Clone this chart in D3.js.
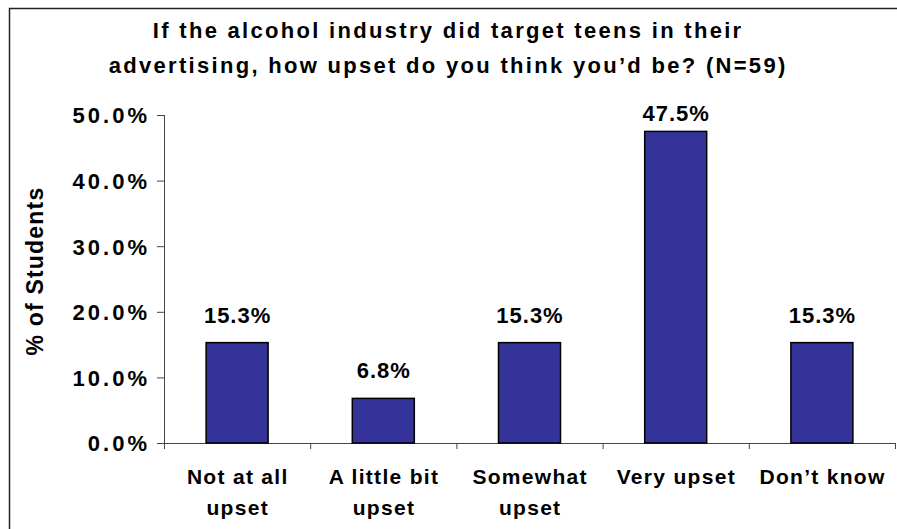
<!DOCTYPE html>
<html>
<head>
<meta charset="utf-8">
<script src="https://cdn.jsdelivr.net/npm/d3@7"></script>
<style>
  html, body { margin: 0; padding: 0; background: #fff; }
  svg { display: block; }
  text { font-family: Arial, "Liberation Sans", sans-serif; font-weight: bold; fill: #000; }
</style>
</head>
<body>
<svg id="chart" width="897" height="529"></svg>
<script>
// Survey responses: how upset students would be if alcohol ads targeted teens
const categories = [["Not at all", "upset"], ["A little bit", "upset"], ["Somewhat", "upset"], ["Very upset"], ["Don\u2019t know"]];
const values = [15.3, 6.8, 15.3, 47.5, 15.3];
const yTicks = [0, 10, 20, 30, 40, 50];
const titleLines = ["If the alcohol industry did target teens in their", "advertising, how upset do you think you\u2019d be? (N=59)"];
const yAxisTitle = "% of Students";

const svg = d3.select("#chart");
const W = 897, H = 529;

// chart frame (right and bottom edges run past the page)
svg.append("rect")
  .attr("x", 9.5).attr("y", 8.5)
  .attr("width", W + 10).attr("height", H + 10)
  .attr("fill", "#fff").attr("stroke", "#222").attr("stroke-width", 1.5);

const plot = { left: 164, right: 895, top: 115, bottom: 443 };

const y = d3.scaleLinear().domain([0, 50]).range([plot.bottom, plot.top]);
const x = d3.scaleBand()
  .domain(d3.range(categories.length))
  .range([plot.left, plot.right])
  .paddingInner(0.576).paddingOuter(0.288);
const xEdges = d3.scaleLinear().domain([0, categories.length]).range([plot.left, plot.right]);

// title
const titleSpacing = 2.3;
svg.append("g").selectAll("text").data(titleLines).join("text")
  .attr("x", 447 + titleSpacing / 2).attr("y", (d, i) => 38 + i * 35)
  .attr("text-anchor", "middle")
  .style("font-size", "22px")
  .style("letter-spacing", titleSpacing + "px")
  .text(d => d);

// y axis
const tickSpacing = 3;
const yAxis = svg.append("g")
  .attr("transform", `translate(${plot.left},0)`)
  .call(d3.axisLeft(y).tickValues(yTicks).tickSize(7).tickPadding(10 - tickSpacing)
    .tickFormat(d => d3.format(".1f")(d) + "%"));
yAxis.selectAll("path, line").attr("stroke", "#444");
yAxis.selectAll("text")
  .style("font-size", "22px")
  .style("letter-spacing", tickSpacing + "px")
  .attr("dy", "0.36em");
yAxis.select(".domain").attr("d", `M0.5,${plot.top}V${plot.bottom + 0.5}`);

// x axis with ticks on category boundaries
const xAxis = svg.append("g")
  .attr("transform", `translate(0,${plot.bottom})`)
  .call(d3.axisBottom(xEdges).ticks(categories.length).tickSize(6).tickFormat(""));
xAxis.selectAll("path, line").attr("stroke", "#444");
xAxis.select(".domain").attr("d", `M${plot.left - 7},0.5H${plot.right}`);

// bars
svg.append("g").selectAll("rect").data(values).join("rect")
  .attr("x", (d, i) => x(i))
  .attr("y", d => y(d))
  .attr("width", x.bandwidth())
  .attr("height", d => plot.bottom - y(d))
  .attr("fill", "#333399")
  .attr("stroke", "#000").attr("stroke-width", 1.5);

// value labels
const valueSpacing = 1;
svg.append("g").selectAll("text").data(values).join("text")
  .attr("x", (d, i) => x(i) + x.bandwidth() / 2 + valueSpacing / 2)
  .attr("y", d => Math.max(y(d) - 20, 121))
  .attr("text-anchor", "middle")
  .style("font-size", "22px")
  .style("letter-spacing", valueSpacing + "px")
  .text(d => d3.format(".1f")(d) + "%");

// category labels
const catSpacing = 1.3;
const cat = svg.append("g").selectAll("text").data(categories).join("text")
  .attr("x", (d, i) => x(i) + x.bandwidth() / 2 + catSpacing / 2)
  .attr("y", 484)
  .attr("text-anchor", "middle")
  .style("font-size", "21px")
  .style("letter-spacing", catSpacing + "px");
cat.selectAll("tspan").data(d => d).join("tspan")
  .attr("x", function () { return d3.select(this.parentNode).attr("x"); })
  .attr("dy", (d, i) => i === 0 ? 0 : 31)
  .text(d => d);

// y axis title
svg.append("text")
  .attr("transform", `translate(43,271) rotate(-90)`)
  .attr("text-anchor", "middle")
  .style("font-size", "23px")
  .style("letter-spacing", "1.2px")
  .text(yAxisTitle);
</script>
</body>
</html>
